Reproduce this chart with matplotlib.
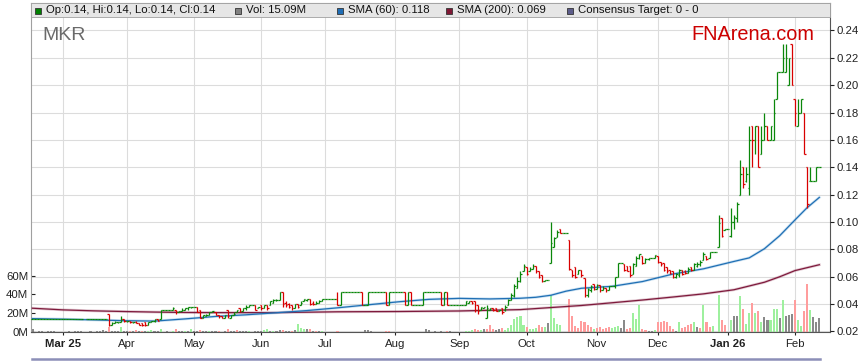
import numpy as np
import pandas as pd
import matplotlib
matplotlib.use("Agg")
import matplotlib.pyplot as plt
from matplotlib.collections import LineCollection
from matplotlib.patches import Rectangle
from matplotlib.lines import Line2D

# ---------------- data ----------------
start_date = "2025-02-17"
end_date = "2026-02-12"
ticker = "MKR"
brand = "FNArena.com"

N = None
opens = [
 .029,.029,.029,.029,.029,.029,.029,.029,.029,.029,
 .029,.029,.029,.029,.029,.029,.029,N,.029,.029,
 .029,.029,.029,.029,.029,.033,.025,.026,.027,.027,
 .029,.028,.028,.027,.027,.026,.026,.027,.025,.027,
 .028,.029,.029,.036,.036,.036,.036,.036,.034,.035,
 .036,.037,.038,.038,.038,.036,.030,.031,.032,.034,
 .034,.032,.031,.030,.036,.030,.032,.034,.037,.035,
 .037,.038,.039,.039,.037,.039,.037,.039,.039,.041,
 .043,.043,.049,.041,.040,.039,.037,.040,.039,.042,
 .043,.044,.041,.040,.041,.042,.044,.044,.044,.044,
 .044,.039,.049,.049,.049,.049,.049,.049,.049,.039,
 .039,.049,.049,.049,.049,.049,.049,.039,.049,.049,
 .049,.049,.049,.039,.049,.039,.039,.039,.039,.049,
 .049,.049,.049,.049,.049,.039,.049,.039,.039,.039,
 .039,.039,.039,.041,.042,.042,.039,.036,.037,.030,
 .036,.037,.037,.035,.037,.036,.039,.043,.046,.052,
 .057,.064,.067,.064,.066,.068,.064,.061,.057,.058,
 .070,.082,.089,.095,.092,.092,.087,.065,.067,.062,
 .065,.059,.047,.050,.055,.051,.054,.050,.052,.050,
 .053,.053,.060,.070,.069,.068,.068,.062,.068,.074,
 .075,.070,.073,.074,.074,.075,.071,.070,.067,.065,
 .064,.060,.061,.065,.064,.063,.067,.065,.068,.069,
 .072,.075,.074,.078,.078,.082,.103,.094,.095,.090,
 .100,.103,.120,.140,.130,.125,.170,.160,.170,.150,
 .160,.170,.160,.160,.190,.210,.210,.210,.200,.230,
 .190,.170,.180,.180,.140,.130,.130,.130,.140]
highs = [
 .029,.029,.029,.029,.029,.029,.029,.029,.029,.029,
 .029,.029,.029,.029,.029,.029,.029,N,.029,.029,
 .029,.029,.029,.029,.029,.033,.027,.028,.027,.031,
 .029,.028,.028,.027,.028,.026,.026,.027,.027,.028,
 .029,.029,.036,.036,.036,.036,.038,.036,.035,.037,
 .037,.038,.038,.038,.038,.036,.032,.033,.034,.035,
 .034,.032,.031,.032,.036,.032,.034,.036,.037,.037,
 .039,.039,.039,.039,.038,.039,.039,.039,.042,.044,
 .044,.049,.049,.042,.041,.039,.040,.040,.042,.044,
 .044,.044,.042,.042,.043,.044,.044,.044,.044,.044,
 .049,.049,.049,.049,.049,.049,.049,.049,.049,.039,
 .049,.049,.049,.049,.049,.049,.049,.049,.049,.049,
 .049,.049,.049,.049,.049,.039,.039,.039,.049,.049,
 .049,.049,.049,.049,.049,.049,.049,.039,.039,.039,
 .039,.039,.042,.042,.042,.042,.039,.038,.038,.039,
 .037,.037,.037,.036,.037,.039,.044,.048,.055,.060,
 .064,.069,.067,.067,.069,.068,.064,.061,.058,.058,
 .100,.089,.094,.095,.092,.092,.087,.065,.067,.065,
 .065,.059,.052,.054,.055,.055,.054,.053,.052,.053,
 .053,.060,.070,.070,.069,.068,.068,.070,.075,.077,
 .075,.074,.074,.074,.076,.075,.071,.070,.067,.065,
 .064,.063,.066,.065,.065,.067,.067,.070,.071,.072,
 .078,.075,.078,.078,.078,.105,.103,.095,.095,.110,
 .105,.115,.145,.140,.140,.170,.170,.170,.170,.170,
 .180,.170,.170,.190,.210,.210,.230,.230,.220,.230,
 .190,.190,.190,.180,.140,.140,.130,.140,.140]
lows = [
 .029,.029,.029,.029,.029,.029,.029,.029,.029,.029,
 .029,.029,.029,.029,.029,.029,.029,N,.029,.029,
 .029,.029,.029,.029,.029,.024,.025,.026,.026,.027,
 .027,.027,.026,.026,.026,.025,.024,.024,.025,.027,
 .027,.028,.029,.036,.036,.036,.036,.033,.034,.035,
 .036,.036,.037,.038,.034,.030,.030,.031,.032,.034,
 .032,.030,.030,.030,.030,.030,.032,.034,.034,.035,
 .036,.038,.039,.036,.037,.036,.037,.036,.039,.041,
 .042,.043,.038,.038,.037,.036,.037,.037,.039,.042,
 .042,.039,.039,.040,.041,.042,.044,.044,.044,.044,
 .039,.039,.049,.049,.049,.049,.049,.049,.039,.039,
 .039,.049,.049,.049,.049,.049,.039,.039,.049,.049,
 .049,.049,.039,.039,.039,.039,.039,.039,.039,.049,
 .049,.049,.049,.049,.039,.039,.039,.039,.039,.039,
 .039,.039,.039,.041,.040,.034,.033,.036,.037,.030,
 .036,.035,.035,.035,.033,.035,.039,.043,.045,.052,
 .056,.064,.061,.064,.066,.063,.059,.056,.057,.058,
 .070,.082,.089,.092,.092,.092,.065,.060,.059,.062,
 .060,.045,.045,.049,.050,.051,.049,.050,.049,.050,
 .053,.052,.060,.070,.064,.064,.060,.062,.068,.073,
 .069,.070,.072,.074,.074,.070,.068,.064,.063,.062,
 .059,.059,.060,.061,.062,.063,.064,.065,.067,.068,
 .072,.072,.074,.078,.078,.082,.089,.094,.095,.089,
 .095,.100,.120,.125,.129,.120,.140,.150,.140,.150,
 .160,.160,.160,.160,.190,.210,.210,.210,.200,.200,
 .170,.170,.180,.150,.110,.130,.130,.130,.140]
closes = [
 .029,.029,.029,.029,.029,.029,.029,.029,.029,.029,
 .029,.029,.029,.029,.029,.029,.029,N,.029,.029,
 .029,.029,.029,.029,.029,.025,.026,.027,.027,.029,
 .028,.028,.027,.027,.026,.025,.025,.025,.027,.028,
 .029,.028,.036,.036,.036,.036,.037,.034,.035,.036,
 .037,.038,.038,.038,.034,.030,.032,.032,.034,.035,
 .032,.031,.030,.032,.031,.032,.033,.036,.035,.037,
 .038,.039,.039,.036,.038,.037,.039,.037,.042,.043,
 .043,.049,.040,.039,.038,.037,.040,.038,.041,.044,
 .044,.040,.040,.041,.042,.044,.044,.044,.044,.044,
 .039,.049,.049,.049,.049,.049,.049,.049,.039,.039,
 .049,.049,.049,.049,.049,.049,.039,.049,.049,.049,
 .049,.049,.039,.049,.039,.039,.039,.039,.049,.049,
 .049,.049,.049,.049,.039,.049,.039,.039,.039,.039,
 .039,.039,.042,.042,.041,.036,.035,.038,.038,.037,
 .037,.036,.035,.036,.034,.038,.043,.047,.053,.057,
 .062,.068,.062,.066,.068,.064,.060,.057,.058,.058,
 .085,.088,.093,.092,.092,.092,.066,.061,.060,.065,
 .061,.047,.051,.053,.051,.054,.050,.052,.050,.053,
 .053,.060,.070,.070,.065,.064,.061,.069,.074,.077,
 .070,.073,.074,.074,.076,.071,.069,.065,.064,.063,
 .060,.062,.065,.062,.063,.066,.065,.069,.069,.071,
 .077,.073,.078,.078,.078,.099,.090,.095,.095,.100,
 .104,.113,.135,.128,.135,.160,.160,.170,.140,.160,
 .170,.160,.170,.180,.210,.210,.220,.220,.220,.200,
 .180,.180,.190,.150,.113,.130,.130,.140,.140]
# volume in millions of shares
volumes = [
 3,0,1,1,0,1,1,1,0,0,
 0,0,1,0,1,1,1,0,0,1,
 0,1,1,2,1,5,1,1,1,5,
 1,1,1,1,2,1,1,1,1,2,
 1,1,3,0,1,0,1,3,1,1,
 1,1,3,1,1,2,1,1,1,1,
 1,1,0,1,3,1,1,2,1,1,
 1,1,0,1,1,1,2,3,1,1,
 1,2,2,1,1,1,2,8,4,3,
 3,3,1,1,1,1,0,0,0,0,
 1,0,0,0,0,0,0,0,0,2,
 2,1,0,0,0,0,1,1,0,0,
 0,0,0,0,0,0,0,0,0,3,
 2,0,1,0,1,0,1,1,0,0,
 0,0,1,1,2,3,2,2,3,3,
 7,3,2,3,4,2,4,7,14,16,
 17,7,5,3,3,4,7,5,5,9,
 39,15,8,7,0,0,35,17,6,4,
 11,10,7,5,3,4,5,3,4,5,
 4,5,6,4,13,3,4,20,14,28,
 3,2,1,1,2,10,10,11,10,6,
 3,1,10,4,5,7,8,10,5,4,
 29,10,5,6,0,39,13,7,0,13,
 17,17,38,24,8,20,31,20,22,10,
 16,13,13,24,24,15,34,17,18,19,
 34,12,6,22,51,23,16,10,15.09]
# g = up day, r = down day, n = unchanged
vol_dir = ("nnnnnnnnnn" "nnnnnnnnnn" "nnnnnrnnng" "nnrnrnrngg" "nngnnngrnn"
           "gngnnrnngn" "nrnnrnnrnn" "ngnnnnggng" "nnrnnrnggg" "nrnrngnnnn"
           "rnnnnnnnnn" "nnnnnnrrnn" "nnnnnnnnnn" "nnnnnnrnnn" "nngggrrgnr"
           "rrnnrggggg" "ggrgggrrgn" "ggggnnrrrr" "rrrrgrrrrr" "gggnnrrggg"
           "rrnngrrrrr" "rngrrrrgnr" "grrgngrrng" "nngrggrgrg" "nngggngnnn"
           "rggrrgnnn")

sma60_idx = [0, 10, 20, 30, 40, 50, 60, 70, 80, 90, 100, 110, 120, 130, 140, 150,
             160, 165, 170, 175, 180, 190, 200, 210, 220, 230, 235, 240, 245, 250, 254, 258]
sma60_val = [.0294, .0290, .0285, .0279, .0276, .0292, .0310, .0322, .0337, .0353, .0373,
             .0395, .0417, .0435, .0442, .0438, .0443, .0450, .0465, .0495, .0516, .0530,
             .0565, .0620, .0658, .0712, .0738, .0805, .0900, .1015, .1105, .1180]
sma200_idx = [0, 10, 20, 30, 40, 50, 60, 80, 100, 120, 140, 160, 180, 200, 210, 220,
              230, 240, 245, 250, 258]
sma200_val = [.0370, .0358, .0351, .0346, .0342, .0339, .0338, .0338, .0344, .0346, .0350,
              .0360, .0390, .0430, .0452, .0475, .0505, .0560, .0600, .0645, .0688]

month_firsts = ["2025-03-01", "2025-04-01", "2025-05-01", "2025-06-01", "2025-07-01",
                "2025-08-01", "2025-09-01", "2025-10-01", "2025-11-01", "2025-12-01",
                "2026-01-01", "2026-02-01"]
month_labels = ["Mar 25", "Apr", "May", "Jun", "Jul", "Aug", "Sep", "Oct", "Nov", "Dec",
                "Jan 26", "Feb"]
bold_labels = ["Mar 25", "Jan 26"]

price_ticks = [0.02, 0.04, 0.06, 0.08, 0.10, 0.12, 0.14, 0.16, 0.18, 0.20, 0.22, 0.24]
vol_ticks = [0, 20, 40, 60]
consensus_text = "Consensus Target: 0 - 0"

# ---------------- figure ----------------
plt.rcParams['font.family'] = ['Liberation Sans', 'DejaVu Sans']
W, H = 859, 363
fig = plt.figure(figsize=(W / 100, H / 100), dpi=100)
fig.patch.set_facecolor('white')

def fx(px):
    return px / W

def fy(py):
    return 1 - py / H

dates = pd.bdate_range(start_date, end_date)
n = len(dates)
xi = np.arange(n)

ax = fig.add_axes([fx(31), fy(332), fx(830) - fx(31), fy(3) - fy(332)])
ax2 = ax.twinx()

P0, P1 = 0.01963, 0.2601
V0, V1 = -0.32, 351.0
ax.set_xlim(-0.5, 261.5)
ax.set_ylim(V0, V1)
ax2.set_ylim(P0, P1)

GRID = '#dcdcdc'
tick_pos = [int(np.searchsorted(dates.values, np.datetime64(m))) for m in month_firsts]
for t in tick_pos:
    ax.axvline(t, color=GRID, lw=0.8, zorder=0)
for p in price_ticks:
    fr = (p - P0) / (P1 - P0)
    ax.plot([0, 1], [fr, fr], transform=ax.transAxes, color=GRID, lw=0.8, zorder=0)

# volume bars
vcol = {'g': '#9ef09e', 'r': '#ff9d9d', 'n': '#8a8a8a'}
ax.bar(xi, volumes, width=0.68, color=[vcol[d] for d in vol_dir], linewidth=0, zorder=1)

# SMA lines
ax2.plot(sma200_idx, sma200_val, color='#8a2a4c', lw=2.0, alpha=0.25, zorder=2)
ax2.plot(sma200_idx, sma200_val, color='#7e1a3c', lw=0.9, zorder=2)
ax2.plot(sma60_idx, sma60_val, color='#3a8ccc', lw=2.0, alpha=0.25, zorder=2)
ax2.plot(sma60_idx, sma60_val, color='#1f6fb4', lw=0.9, zorder=2)

# OHLC bars
GREEN, RED = '#0a870a', '#d80000'
segs, cols = [], []
for i in range(n):
    o, h, l, c = opens[i], highs[i], lows[i], closes[i]
    if o is None:
        continue
    col = RED if c < o else GREEN
    segs += [[(i, l), (i, h)], [(i - 0.5, o), (i, o)], [(i, c), (i + 0.5, c)]]
    cols += [col] * 3
ax2.add_collection(LineCollection(segs, colors=cols, linewidths=0.9, capstyle='butt',
                                  zorder=3))

# axes styling
for s in ['left', 'right', 'top', 'bottom']:
    ax2.spines[s].set_visible(False)
ax.spines['left'].set_color('#a0a0a0')
ax.spines['top'].set_color('#a0a0a0')
ax.spines['right'].set_color('#555555')
ax.spines['bottom'].set_color('#555555')
for s in ax.spines.values():
    s.set_linewidth(0.8)

ax.set_yticks(vol_ticks)
ax.set_yticklabels([f"{v}M" for v in vol_ticks])
ax.tick_params(axis='y', direction='in', length=3, pad=2, labelsize=8.2,
               colors='#222222', width=0.8)
ax2.set_yticks(price_ticks)
ax2.set_yticklabels([f"{p:.2f}" for p in price_ticks])
ax2.tick_params(axis='y', direction='out', length=3, pad=1.5, labelsize=8.2,
                colors='#222222', width=0.8)
ax.set_xticks(tick_pos)
ax.set_xticklabels(month_labels)
ax.tick_params(axis='x', direction='out', length=2, pad=3, labelsize=8.2,
               colors='#222222', width=0.8)
for lab in ax.get_xticklabels():
    if lab.get_text() in bold_labels:
        lab.set_fontweight('bold')

# legend band
fig.add_artist(Rectangle((fx(31), fy(17)), fx(830) - fx(31), fy(3) - fy(17),
                         transform=fig.transFigure, facecolor='#e6e6e6',
                         edgecolor='#a0a0a0', lw=0.6, zorder=5))
legend_items = [
    (f"Op:{opens[-1]:.2f}, Hi:{highs[-1]:.2f}, Lo:{lows[-1]:.2f}, Cl:{closes[-1]:.2f}",
     '#008000', 35),
    (f"Vol: {volumes[-1]:.2f}M", '#808080', 235),
    (f"SMA (60): {sma60_val[-1]:.3f}", '#1f6db5', 337),
    (f"SMA (200): {sma200_val[-1]:.3f}", '#7f1734', 446),
    (consensus_text, '#5c5c8a', 567),
]
for text, colr, x0 in legend_items:
    fig.add_artist(Rectangle((fx(x0), fy(13.5)), 6 / W, 6 / H, transform=fig.transFigure,
                             facecolor=colr, edgecolor='#333333', lw=0.6, zorder=6))
    fig.text(fx(x0 + 11), fy(10.3), text, fontsize=8.2, color='#111111',
             va='center', ha='left', zorder=7)

fig.text(fx(42), fy(40), ticker, fontsize=14, color='#6a6a6a', va='baseline',
         ha='left', zorder=7)
fig.text(fx(691), fy(39.5), brand, fontsize=14.3, color='#cc0000', va='baseline',
         ha='left', zorder=7)

# navigator bar at bottom
fig.add_artist(Line2D([fx(32), fx(820)], [fy(359.3), fy(359.3)], transform=fig.transFigure,
                      color='#8c8fb8', lw=1.8, zorder=5))

fig.savefig('out.png', dpi=100)
